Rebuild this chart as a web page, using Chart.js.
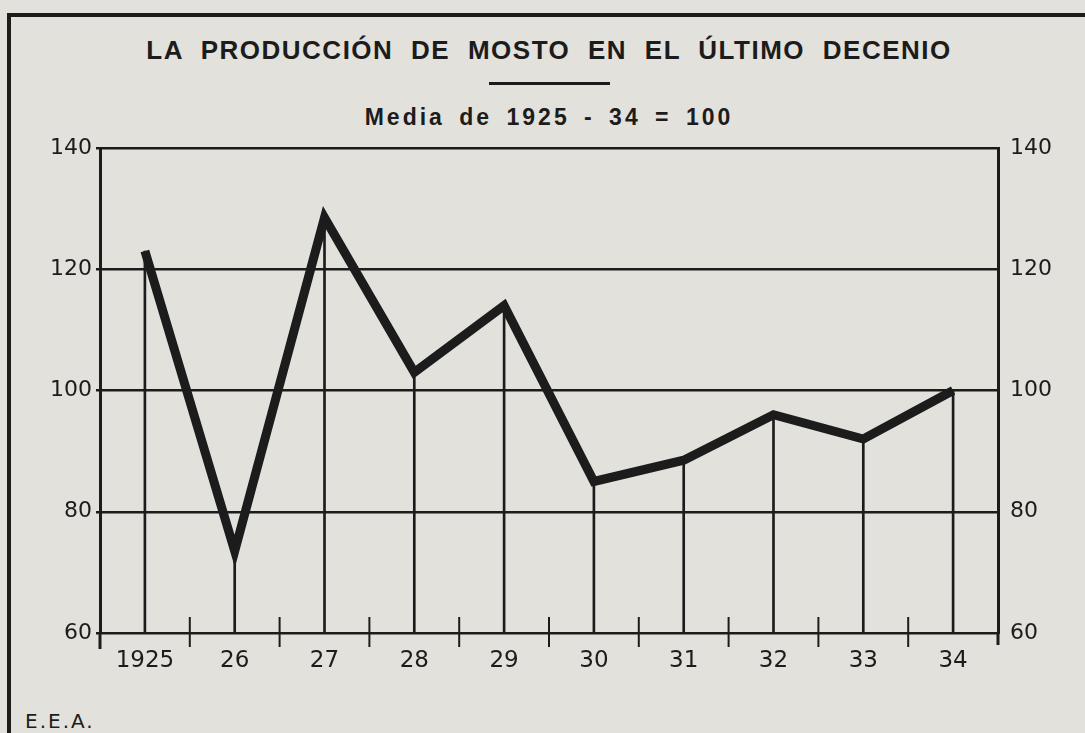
<!DOCTYPE html>
<html lang="es">
<head>
<meta charset="utf-8">
<title>La producción de mosto en el último decenio</title>
<script src="https://cdn.jsdelivr.net/npm/chart.js@4"></script>
<style>
  html, body { margin: 0; padding: 0; }
  body { width: 1085px; height: 733px; background: #e3e1dc; position: relative; overflow: hidden; }
  .marco { position: absolute; left: 7px; top: 13px; width: 1100px; height: 740px;
           border-top: 4px solid #1c1c1c; border-left: 4px solid #1c1c1c; }
  .titulo, .subtitulo { position: absolute; left: 0; width: 1098px; text-align: center;
           font-family: "Liberation Sans", Arial, sans-serif; font-weight: bold; color: #1c1c1c;
           line-height: 1; white-space: pre; }
  .titulo { top: 37px; font-size: 26px; letter-spacing: 1.5px; word-spacing: 9px; }
  .subtitulo { top: 106px; font-size: 23px; letter-spacing: 3px; word-spacing: 5px; }
  .raya { position: absolute; left: 489px; top: 82px; width: 121px; height: 3px; background: #1c1c1c; }
  .firma { position: absolute; left: 25px; top: 711px; font-family: "DejaVu Sans", sans-serif;
           font-size: 20px; line-height: 1; letter-spacing: 2px; color: #1c1c1c; }
  .lienzo { position: absolute; left: 0; top: 0; width: 1085px; height: 733px; }
</style>
</head>
<body>
<div class="marco"></div>
<div class="titulo">LA PRODUCCIÓN DE MOSTO EN EL ÚLTIMO DECENIO</div>
<div class="raya"></div>
<div class="subtitulo">Media de 1925 - 34 = 100</div>
<div class="firma">E.E.A.</div>
<div class="lienzo"><canvas id="graficoMosto"></canvas></div>

<script>
// Datos (índice, media 1925-34 = 100)
const anios = ['1925', '26', '27', '28', '29', '30', '31', '32', '33', '34'];
const indices = [123, 73.5, 128.5, 103, 114, 85, 88.5, 96, 92, 100];
const marcasY = [60, 80, 100, 120, 140];

const TINTA = '#1c1c1c';
const fuenteEje = { family: 'DejaVu Sans', size: 22 };

// Marcas cortas entre años y prolongación de los bordes bajo el eje
const marcasEje = {
    id: 'marcasEje',
    afterDraw(chart) {
        const { ctx, chartArea, scales } = chart;
        const x = scales.x;
        ctx.save();
        ctx.strokeStyle = TINTA;
        ctx.lineWidth = 2;
        ctx.beginPath();
        for (let i = 0; i < anios.length - 1; i++) {
            const px = (x.getPixelForValue(i) + x.getPixelForValue(i + 1)) / 2;
            ctx.moveTo(px, chartArea.bottom - 16);
            ctx.lineTo(px, chartArea.bottom + 14);
        }
        ctx.stroke();
        ctx.lineWidth = 3;
        ctx.beginPath();
        ctx.moveTo(chartArea.left, chartArea.bottom);
        ctx.lineTo(chartArea.left, chartArea.bottom + 16);
        ctx.moveTo(chartArea.right, chartArea.bottom);
        ctx.lineTo(chartArea.right, chartArea.bottom + 12);
        ctx.stroke();
        ctx.restore();
    }
};

function fijarMarcas(scale) {
    scale.ticks = marcasY.map(v => ({ value: v }));
}

new Chart(document.getElementById('graficoMosto'), {
    data: {
        labels: anios,
        datasets: [{
            type: 'line',
            label: 'Producción de mosto',
            data: indices,
            borderColor: TINTA,
            borderWidth: 9,
            borderJoinStyle: 'miter',
            borderCapStyle: 'butt',
            tension: 0,
            pointRadius: 0,
            fill: false,
            order: 1
        }, {
            // líneas verticales que bajan de cada punto al eje
            type: 'bar',
            label: 'Referencia',
            data: indices,
            backgroundColor: TINTA,
            barThickness: 2,
            order: 2
        }]
    },
    options: {
        responsive: true,
        maintainAspectRatio: false,
        animation: false,
        layout: { padding: { top: 148, left: 0, right: 0, bottom: 0 } },
        plugins: {
            legend: { display: false },
            tooltip: { enabled: false }
        },
        scales: {
            x: {
                type: 'category',
                offset: true,
                grid: { display: false, drawTicks: false },
                border: { display: false },
                ticks: { font: { family: 'DejaVu Sans', size: 23 }, color: TINTA, padding: 14, maxRotation: 0 },
                afterFit(s) { s.height = 100; }
            },
            y: {
                position: 'left',
                min: 60,
                max: 140,
                afterBuildTicks: fijarMarcas,
                ticks: { font: fuenteEje, color: TINTA, padding: 4 },
                grid: { color: TINTA, lineWidth: 2.5, tickLength: 4 },
                border: { color: TINTA, width: 3 },
                afterFit(s) { s.width = 100; }
            },
            y2: {
                position: 'right',
                min: 60,
                max: 140,
                afterBuildTicks: fijarMarcas,
                ticks: { font: fuenteEje, color: TINTA, padding: 12 },
                grid: { display: false, drawTicks: false },
                border: { color: TINTA, width: 3 },
                afterFit(s) { s.width = 87; }
            }
        }
    },
    plugins: [marcasEje]
});
</script>
</body>
</html>
